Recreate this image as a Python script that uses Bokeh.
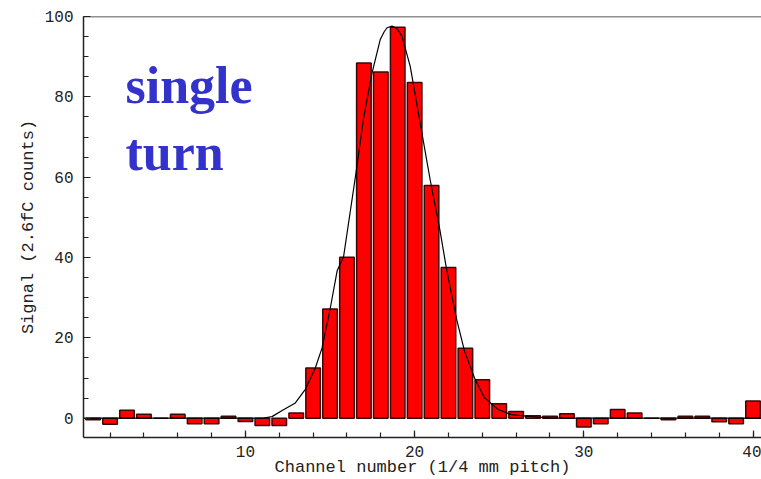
from bokeh.plotting import figure
from bokeh.models import Range1d, SingleIntervalTicker, Label, Span, ColumnDataSource
from bokeh.embed import file_html
from bokeh.resources import INLINE

# ---- data ----
channels = list(range(1, 41))
signal = [-0.4, -1.5, 2.0, 1.0, 0.0, 1.0, -1.4, -1.4, 0.5, -0.8,
          -1.8, -1.8, 1.3, 12.5, 27.2, 40.1, 88.4, 86.2, 97.3, 83.6,
          57.9, 37.5, 17.4, 9.6, 3.6, 1.7, 0.6, 0.5, 1.1, -2.2,
          -1.4, 2.2, 1.3, 0.0, -0.4, 0.5, 0.5, -0.9, -1.4, 4.3]

fit_x = [0.43, 11.0, 11.57, 12.17, 12.95, 13.54, 14.13, 14.53, 15.02, 15.42,
         15.8, 16.5, 17.0, 17.48, 17.97, 18.2, 18.37, 18.66, 18.95, 19.25,
         19.74, 20.33, 20.92, 21.5, 21.87, 22.46, 22.95, 23.54, 24.13, 24.92,
         25.7, 26.9, 28.0, 40.5]
fit_y = [0.0, 0.0, 0.4, 1.9, 3.8, 7.2, 12.5, 17.5, 27.5, 36.7,
         40.2, 60.1, 75.1, 85.9, 94.3, 96.2, 97.2, 97.6, 97.0, 95.1,
         87.6, 73.4, 59.3, 46.7, 37.5, 25.0, 16.7, 10.0, 5.1, 2.2,
         0.9, 0.4, 0.0, 0.0]

x_title = "Channel number (1/4 mm pitch)"
y_title = "Signal (2.6fC counts)"
annot = ["single", "turn"]

p = figure(width=761, height=479, output_backend="svg", toolbar_location=None,
           x_range=Range1d(0.43, 40.5), y_range=Range1d(-4.8, 100),
           min_border_left=83, min_border_top=16, min_border_right=0,
           min_border_bottom=0)
p.background_fill_color = "white"
p.border_fill_color = "white"
p.outline_line_color = None
p.xgrid.visible = False
p.ygrid.visible = False

src = ColumnDataSource(dict(x=channels, top=signal))
p.vbar(x="x", top="top", bottom=0, width=0.86, source=src,
       fill_color="#ff0000", line_color="#3a0808", line_width=1.5)
p.line(fit_x, fit_y, line_color="black", line_width=1.2)

p.add_layout(Span(location=100, dimension="width", line_color="#222222", line_width=1.5))

mono = "Liberation Mono"
for ax in (p.xaxis[0], p.yaxis[0]):
    ax.axis_line_color = "#222222"
    ax.axis_line_width = 1.5
    ax.major_tick_in = 7
    ax.major_tick_out = 0
    ax.minor_tick_in = 5
    ax.minor_tick_out = 0
    ax.major_tick_line_color = "#222222"
    ax.minor_tick_line_color = "#222222"
    ax.major_tick_line_width = 1.2
    ax.minor_tick_line_width = 1.2
    ax.major_label_text_font = mono
    ax.major_label_text_font_size = "16px"
    ax.major_label_text_color = "#222222"
    ax.axis_label_text_font = mono
    ax.axis_label_text_font_size = "17px"
    ax.axis_label_text_font_style = "normal"
    ax.axis_label_text_color = "#222222"

p.xaxis[0].ticker = SingleIntervalTicker(interval=10, num_minor_ticks=5)
p.yaxis[0].ticker = SingleIntervalTicker(interval=20, num_minor_ticks=4)
p.xaxis[0].axis_label = x_title
p.yaxis[0].axis_label = y_title
p.xaxis[0].major_label_standoff = 8
p.xaxis[0].axis_label_standoff = -2
p.yaxis[0].major_label_standoff = 10
p.yaxis[0].axis_label_standoff = 4

p.add_layout(Label(x=2.91, y=82.9, text=annot[0], text_font="Liberation Serif",
                   text_font_style="bold", text_font_size="52px", text_color="#3333cc",
                   text_baseline="alphabetic"))
p.add_layout(Label(x=2.91, y=66.2, text=annot[1], text_font="Liberation Serif",
                   text_font_style="bold", text_font_size="52px", text_color="#3333cc",
                   text_baseline="alphabetic"))

open("out.html", "w").write(file_html(p, INLINE))
